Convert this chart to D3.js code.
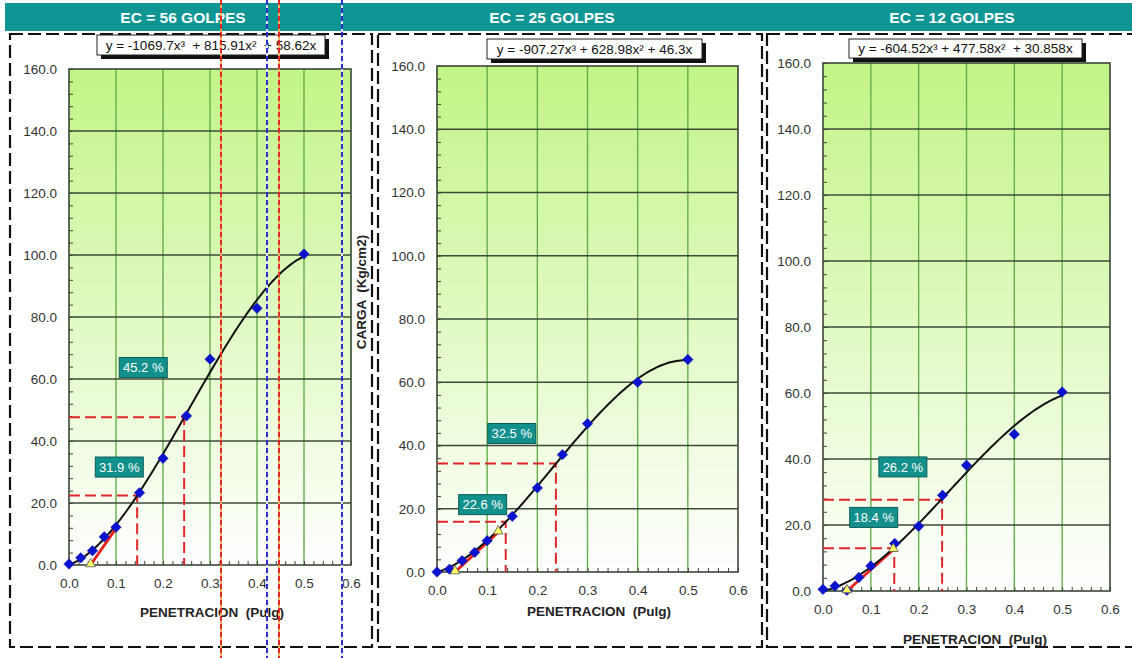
<!DOCTYPE html>
<html><head><meta charset="utf-8">
<script src="https://cdn.jsdelivr.net/npm/d3@7"></script>
<style>
  body { margin: 0; background: #fff; }
  svg { display: block; font-family: "Liberation Sans", Arial, sans-serif; }
</style>
</head><body>
<svg id="chart" width="1132" height="658"></svg>
<script>
// ---- Ensayo CBR: carga vs penetración para 56, 25 y 12 golpes ----
const titulos = ["EC = 56 GOLPES", "EC = 25 GOLPES", "EC = 12 GOLPES"];
const penetracion = [0, 0.025, 0.05, 0.075, 0.1, 0.15, 0.2, 0.25, 0.3, 0.4, 0.5];
const carga56 = [0.3, 2.3, 4.6, 9.1, 12.2, 23.3, 34.4, 48.1, 66.4, 82.8, 100.3];
const carga25 = [0.0, 0.9, 3.6, 6.2, 9.9, 17.6, 26.6, 37.1, 46.9, 60.0, 67.2];
const carga12 = [0.5, 1.5, 0.2, 4.1, 7.6, 14.4, 19.6, 29.0, 38.1, 47.5, 60.3];

// Ajuste polinómico y = a·x³ + b·x² + c·x
const coef56 = [-1069.7, 815.91, 58.62];
const coef25 = [-907.27, 628.98, 46.3];
const coef12 = [-604.52, 477.58, 30.858];
const ecuaciones = [
  "y = -1069.7x³  + 815.91x²  + 58.62x",
  "y = -907.27x³ + 628.98x² + 46.3x",
  "y = -604.52x³ + 477.58x²  + 30.858x"
];

// CBR (%) a 0.1" y 0.2" y cargas patrón (kg/cm2)
const cargaPatron = [70.31, 105.46];
const cbr56 = [31.9, 45.2];
const cbr25 = [22.6, 32.5];
const cbr12 = [18.4, 26.2];
// Penetraciones corregidas de lectura
const lectura56 = [0.145, 0.245];
const lectura25 = [0.137, 0.237];
const lectura12 = [0.149, 0.249];

// Corrección por tangente (origen corregido y punto de tangencia)
const tangente56 = [[0.046, 0], [0.1, 11.8]];
const tangente25 = [[0.036, 0], [0.122, 12.6]];
const tangente12 = [[0.05, 0], [0.147, 12.5]];
const marcas56 = [[0.046, 0]];
const marcas25 = [[0.036, 0], [0.122, 12.6]];
const marcas12 = [[0.05, 0], [0.147, 12.5]];

// Ubicación de las etiquetas de CBR en unidades de datos
const etiq56 = [[0.107, 31.6], [0.158, 63.7]];
const etiq25 = [[0.091, 21.3], [0.149, 43.8]];
const etiq12 = [[0.106, 22.3], [0.167, 37.6]];

const xTicks = [0, 0.1, 0.2, 0.3, 0.4, 0.5, 0.6];
const yTicks = [0, 20, 40, 60, 80, 100, 120, 140, 160];

const series = [
  { carga: carga56, coef: coef56, cbr: cbr56, lect: lectura56, tan: tangente56, marcas: marcas56, etiq: etiq56 },
  { carga: carga25, coef: coef25, cbr: cbr25, lect: lectura25, tan: tangente25, marcas: marcas25, etiq: etiq25 },
  { carga: carga12, coef: coef12, cbr: cbr12, lect: lectura12, tan: tangente12, marcas: marcas12, etiq: etiq12 }
];

// Maquetación de cada panel
const layout = [
  { titleX: 183, frame: [10, 34, 372, 647], plot: [69, 69, 351, 565], eq: [97, 35, 228, 20], xlabX: 212, xlabY: 617 },
  { titleX: 552, frame: [378, 34, 762, 647], plot: [437, 66, 738, 572], eq: [487, 39, 215, 20], xlabX: 599, xlabY: 616 },
  { titleX: 952, frame: [767, 34, 1150, 647], plot: [823, 63, 1110, 591], eq: [849, 39, 233, 19], xlabX: 975, xlabY: 644 }
];

const svg = d3.select("#chart");
const defs = svg.append("defs");
const grad = defs.append("linearGradient").attr("id", "fondo")
  .attr("x1", 0).attr("y1", 0).attr("x2", 0).attr("y2", 1);
grad.append("stop").attr("offset", "0%").attr("stop-color", "#c2f486");
grad.append("stop").attr("offset", "100%").attr("stop-color", "#ffffff");

// Franja de títulos
svg.append("rect").attr("x", 5).attr("y", 3).attr("width", 1127).attr("height", 28).attr("fill", "#0f9593");
svg.selectAll("text.titulo").data(titulos).join("text")
  .attr("class", "titulo")
  .attr("x", (d, i) => layout[i].titleX).attr("y", 22.5)
  .attr("text-anchor", "middle").attr("fill", "#fff")
  .attr("font-size", 15.5).attr("font-weight", "bold")
  .text(d => d);

const poly = (c, x) => c[0] * x * x * x + c[1] * x * x + c[2] * x;

series.forEach((s, i) => {
  const L = layout[i];
  const g = svg.append("g");
  const [fx0, fy0, fx1, fy1] = L.frame;
  g.append("rect").attr("x", fx0).attr("y", fy0).attr("width", fx1 - fx0).attr("height", fy1 - fy0)
    .attr("fill", "none").attr("stroke", "#111").attr("stroke-width", 2.2).attr("stroke-dasharray", "13,5");

  const [px0, py0, px1, py1] = L.plot;
  const x = d3.scaleLinear().domain([0, 0.6]).range([px0, px1]);
  const y = d3.scaleLinear().domain([0, 160]).range([py1, py0]);

  g.append("rect").attr("x", px0).attr("y", py0).attr("width", px1 - px0).attr("height", py1 - py0)
    .attr("fill", "url(#fondo)");

  // Rejilla
  g.selectAll("line.gv").data(xTicks.slice(1, -1)).join("line")
    .attr("x1", d => x(d)).attr("x2", d => x(d)).attr("y1", py0).attr("y2", py1)
    .attr("stroke", "#66ad4e").attr("stroke-width", 1.4);
  g.selectAll("line.gh").data(yTicks.slice(1, -1)).join("line")
    .attr("x1", px0).attr("x2", px1).attr("y1", d => y(d)).attr("y2", d => y(d))
    .attr("stroke", "#3d4a38").attr("stroke-width", 1.3);
  g.append("rect").attr("x", px0).attr("y", py0).attr("width", px1 - px0).attr("height", py1 - py0)
    .attr("fill", "none").attr("stroke", "#3a4636").attr("stroke-width", 1.6);

  // Ejes
  const ax = g.append("g").attr("transform", `translate(0,${py1})`)
    .call(d3.axisBottom(x).tickValues(xTicks).tickFormat(d3.format(".1f")).tickSize(0).tickPadding(13));
  const ay = g.append("g").attr("transform", `translate(${px0},0)`)
    .call(d3.axisLeft(y).tickValues(yTicks).tickFormat(d3.format(".1f")).tickSize(0).tickPadding(12));
  const mx = g.append("g").attr("transform", `translate(0,${py1})`)
    .call(d3.axisTop(x).tickValues(d3.range(0, 31).map(k => k * 0.02)).tickFormat("").tickSize(4));
  const my = g.append("g").attr("transform", `translate(${px0},0)`)
    .call(d3.axisRight(y).tickValues(d3.range(0, 41).map(k => k * 4)).tickFormat("").tickSize(4));
  [ax, ay, mx, my].forEach(a => {
    a.select(".domain").remove();
    a.selectAll("text").attr("font-size", 13.5).attr("fill", "#333").attr("font-family", "Liberation Sans, Arial, sans-serif");
    a.selectAll("line").attr("stroke", "#3a4636");
  });

  // Lecturas de CBR (líneas rojas discontinuas)
  s.cbr.forEach((p, k) => {
    const v = p * cargaPatron[k] / 100;
    g.append("path")
      .attr("d", `M${x(0)},${y(v)} H${x(s.lect[k])} V${y(0)}`)
      .attr("fill", "none").attr("stroke", "#e0262a").attr("stroke-width", 2)
      .attr("stroke-dasharray", "11,5");
  });

  // Tangente de corrección
  g.append("path").attr("d", d3.line().x(d => x(d[0])).y(d => y(d[1]))(s.tan))
    .attr("stroke", "#e8201c").attr("stroke-width", 2.8).attr("fill", "none");

  // Curva de ajuste
  const xs = d3.range(0, 101).map(k => k * 0.005);
  g.append("path").attr("d", d3.line().x(d => x(d)).y(d => y(poly(s.coef, d))).curve(d3.curveMonotoneX)(xs))
    .attr("fill", "none").attr("stroke", "#111").attr("stroke-width", 2);

  // Puntos medidos
  g.selectAll("path.pt").data(penetracion.map((p, k) => [p, s.carga[k]])).join("path")
    .attr("d", d3.symbol(d3.symbolSquare, 54)())
    .attr("transform", d => `translate(${x(d[0])},${y(d[1])}) rotate(45)`)
    .attr("fill", "#0a14d0").attr("stroke", "#1a1aa8").attr("stroke-width", 0.6);

  // Marcas triangulares
  g.selectAll("path.tri").data(s.marcas).join("path")
    .attr("d", d3.symbol(d3.symbolTriangle, 40)())
    .attr("transform", d => `translate(${x(d[0])},${y(d[1]) - 1})`)
    .attr("fill", "#ffff66").attr("stroke", "#555").attr("stroke-width", 0.8);

  // Etiquetas de CBR
  s.etiq.forEach((e, k) => {
    const cx = x(e[0]), cy = y(e[1]);
    g.append("rect").attr("x", cx - 24).attr("y", cy - 10).attr("width", 48).attr("height", 20)
      .attr("fill", "#12908b").attr("stroke", "#0b5c58").attr("stroke-width", 1);
    g.append("text").attr("x", cx).attr("y", cy + 4.8).attr("text-anchor", "middle")
      .attr("fill", "#fff").attr("font-size", 13).text(d3.format(".1f")(s.cbr[k]) + " %");
  });

  // Ecuación
  const [ex, ey, ew, eh] = L.eq;
  g.append("rect").attr("x", ex + 4).attr("y", ey + 4).attr("width", ew).attr("height", eh).attr("fill", "#111");
  g.append("rect").attr("x", ex).attr("y", ey).attr("width", ew).attr("height", eh)
    .attr("fill", "#fff").attr("stroke", "#222").attr("stroke-width", 1);
  g.append("text").attr("x", ex + ew / 2).attr("y", ey + eh / 2 + 4.8).attr("text-anchor", "middle")
    .attr("font-size", 13.5).attr("fill", "#111").style("white-space", "pre").text(ecuaciones[i]);

  // Título del eje X
  g.append("text").attr("x", L.xlabX).attr("y", L.xlabY)
    .attr("text-anchor", "middle").attr("font-size", 13.5).attr("font-weight", "bold").attr("fill", "#222")
    .style("white-space", "pre").text("PENETRACION  (Pulg)");
});

// Título del eje Y
svg.append("text").attr("transform", "translate(366,292) rotate(-90)")
  .attr("text-anchor", "middle").attr("font-size", 13.5).attr("font-weight", "bold").attr("fill", "#222")
  .style("white-space", "pre").text("CARGA  (Kg/cm2)");

// Saltos de página
const saltos = [
  { x: 221, color: "#e02a2a", base: "#f5b060" },
  { x: 267, color: "#2a30c8", base: "#dfe4ff" },
  { x: 279, color: "#e02a2a", base: "#f5b060" },
  { x: 342, color: "#2a30c8", base: "#dfe4ff" }
];
saltos.forEach(sb => {
  svg.append("line").attr("x1", sb.x).attr("x2", sb.x).attr("y1", 0).attr("y2", 658)
    .attr("stroke", sb.base).attr("stroke-width", 2);
  svg.append("line").attr("x1", sb.x).attr("x2", sb.x).attr("y1", 0).attr("y2", 658)
    .attr("stroke", sb.color).attr("stroke-width", 2).attr("stroke-dasharray", "5,3");
});
</script>
</body></html>
